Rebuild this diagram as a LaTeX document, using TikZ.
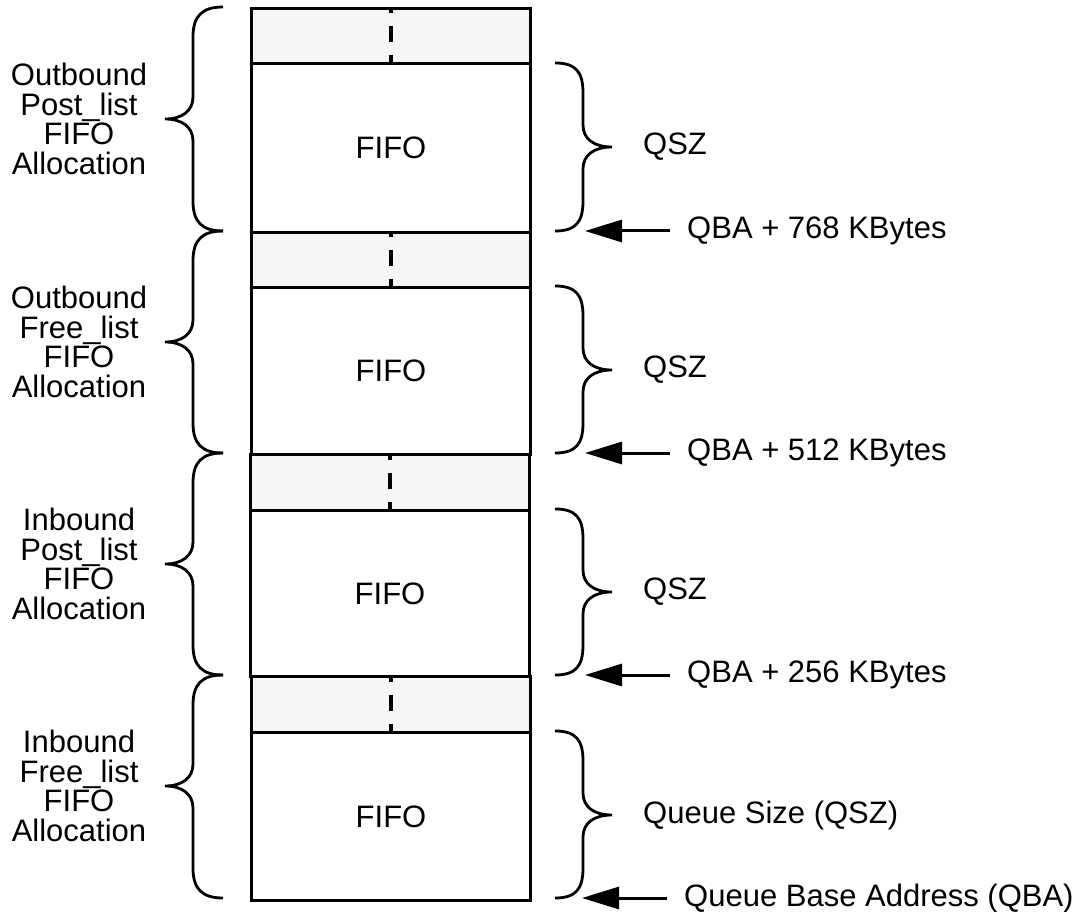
\documentclass[tikz,border=0pt]{standalone}
\usepackage{fontspec}
\setmainfont{Liberation Sans}
\usetikzlibrary{arrows.meta}
\definecolor{grayfill}{HTML}{F6F6F6}
\begin{document}
\begin{tikzpicture}[x=1pt,y=-1pt,
  txt/.style={font=\fontsize{31}{29.5}\selectfont, inner sep=0pt},
  lbl/.style={txt, align=center},
  graybox/.style={draw, line width=3pt, fill=grayfill, minimum width=279pt, minimum height=55pt, inner sep=0pt},
  fifobox/.style={draw, line width=3pt, fill=white, minimum width=279pt, inner sep=0pt, txt},
  dashline/.style={line width=3.4pt, dash pattern=on 16pt off 13pt, dash phase=9.5pt},
  bracel/.style={line width=2.8pt},
  addrarrow/.style={line width=3pt, -{Triangle[length=37pt,width=22pt]}}
]
\useasboundingbox (0,0) rectangle (1080,912);

% column boxes
\node[graybox, anchor=north west] (g1) at (250,7) {};
\node[fifobox, anchor=north west, minimum height=169pt] (f1) at (250,62) {FIFO};
\node[graybox, anchor=north west] (g2) at (250,231) {};
\node[fifobox, anchor=north west, minimum height=167pt] (f2) at (250,286) {FIFO};
\node[graybox, anchor=north west, minimum height=56pt] (g3) at (249,453) {};
\node[fifobox, anchor=north west, minimum height=166pt] (f3) at (249,509) {FIFO};
\node[graybox, anchor=north west, minimum height=56pt] (g4) at (250,675) {};
\node[fifobox, anchor=north west, minimum height=168pt] (f4) at (250,731) {FIFO};

\foreach \g in {g1,g2,g3,g4}{
  \draw[dashline] (\g.north) -- (\g.south);
}

% left braces
\foreach \t/\m/\b in {7/119/231, 231/342/453, 453/564/675, 675/786/898}{
  \draw[bracel] (223,\t) .. controls (202,\t) and (193,\t+9) .. (193,\t+30)
     -- (193,\m-22) .. controls (193,\m-8) and (182,\m) .. (165,\m)
     .. controls (182,\m) and (193,\m+8) .. (193,\m+22)
     -- (193,\b-30) .. controls (193,\b-9) and (202,\b) .. (223,\b);
}

% right braces
\foreach \t/\m/\b in {63/147/231, 286/370/453, 509/592/675, 731/815/898}{
  \draw[bracel] (555,\t) .. controls (576,\t) and (583,\t+9) .. (583,\t+30)
     -- (583,\m-22) .. controls (583,\m-8) and (594,\m) .. (612,\m)
     .. controls (594,\m) and (583,\m+8) .. (583,\m+22)
     -- (583,\b-30) .. controls (583,\b-9) and (576,\b) .. (555,\b);
}

% left labels
\node[lbl] (l1) at (79,119) {Outbound\\Post\_list\\FIFO\\Allocation};
\node[lbl] (l2) at (79,342) {Outbound\\Free\_list\\FIFO\\Allocation};
\node[lbl] (l3) at (79,564) {Inbound\\Post\_list\\FIFO\\Allocation};
\node[lbl] (l4) at (79,786) {Inbound\\Free\_list\\FIFO\\Allocation};

% right size labels
\node[txt, anchor=west] (s1) at (643,147) {QSZ};
\node[txt, anchor=west] (s2) at (643,370) {QSZ};
\node[txt, anchor=west] (s3) at (643,592) {QSZ};
\node[txt, anchor=west] (s4) at (643,815) {Queue Size (QSZ)};

% address labels and arrows
\node[txt, anchor=west] (a1) at (687,231) {QBA + 768 KBytes};
\node[txt, anchor=west] (a2) at (687,453) {QBA + 512 KBytes};
\node[txt, anchor=west] (a3) at (687,675) {QBA + 256 KBytes};
\node[txt, anchor=west] (a4) at (684,898) {Queue Base Address (QBA)};

\coordinate (e1) at (585,231);
\coordinate (e2) at (585,453);
\coordinate (e3) at (585,675);
\coordinate (e4) at (582,898);

\draw[addrarrow] ([xshift=-17pt]a1.west) -- (e1);
\draw[addrarrow] ([xshift=-17pt]a2.west) -- (e2);
\draw[addrarrow] ([xshift=-17pt]a3.west) -- (e3);
\draw[addrarrow] ([xshift=-17pt]a4.west) -- (e4);
\end{tikzpicture}
\end{document}
